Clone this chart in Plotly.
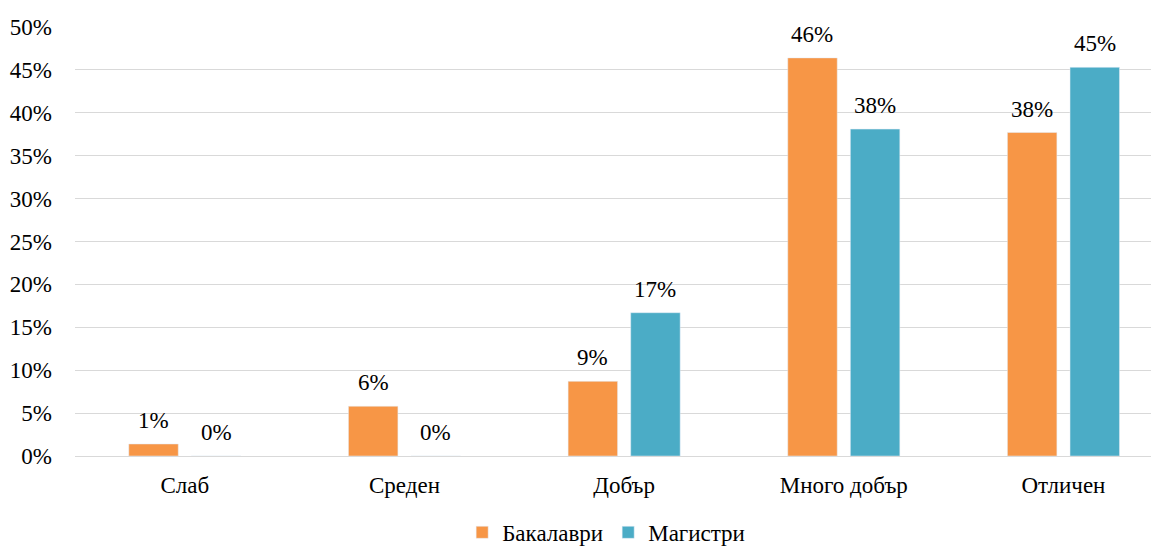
import plotly.graph_objects as go

categories = ["Слаб", "Среден", "Добър", "Много добър", "Отличен"]
bachelors = [0.014, 0.058, 0.087, 0.464, 0.377]
masters = [0.0, 0.0, 0.167, 0.381, 0.453]
tick_vals = [0, 0.05, 0.10, 0.15, 0.20, 0.25, 0.30, 0.35, 0.40, 0.45, 0.50]
tick_text = ["0%", "5%", "10%", "15%", "20%", "25%", "30%", "35%", "40%", "45%", "50%"]

font = dict(family="'Liberation Serif', 'Times New Roman', serif", size=23, color="#000000")
BARGAP = 0.43

fig = go.Figure()
fig.add_trace(go.Bar(name="Бакалаври", x=categories, y=bachelors, marker_color="#F79646"))
fig.add_trace(go.Bar(name="Магистри", x=categories, y=masters, marker_color="#4BACC6"))

offset = (1 - BARGAP) / 4
for i, cat in enumerate(categories):
    for val, sgn in ((bachelors[i], -1), (masters[i], 1)):
        fig.add_annotation(x=i + sgn * offset, y=val, xref="x", yref="y",
                           text=f"{round(val * 100):.0f}%", showarrow=False,
                           yanchor="bottom", yshift=9, font=font)

fig.update_layout(
    width=1159, height=547,
    margin=dict(l=67, r=8, t=19, b=99, autoexpand=False),
    paper_bgcolor="white", plot_bgcolor="white",
    barmode="group", bargap=BARGAP, bargroupgap=0.21,
    font=font,
    legend=dict(orientation="h", x=0.49, xanchor="center", y=-0.178, yanchor="middle",
                font=font, traceorder="normal", itemwidth=30),
    xaxis=dict(range=[-0.5, 4.435], showgrid=False, ticks="", showline=False,
               ticklabelstandoff=13, tickfont=font),
    yaxis=dict(range=[0, 0.5], tickvals=tick_vals, ticktext=tick_text,
               showgrid=True, gridcolor="#D9D9D9", gridwidth=1.3,
               zeroline=True, zerolinecolor="#D9D9D9", zerolinewidth=1.3,
               showline=False, ticks="", ticklabelstandoff=22, tickfont=font),
)

fig.write_html("out.html")
